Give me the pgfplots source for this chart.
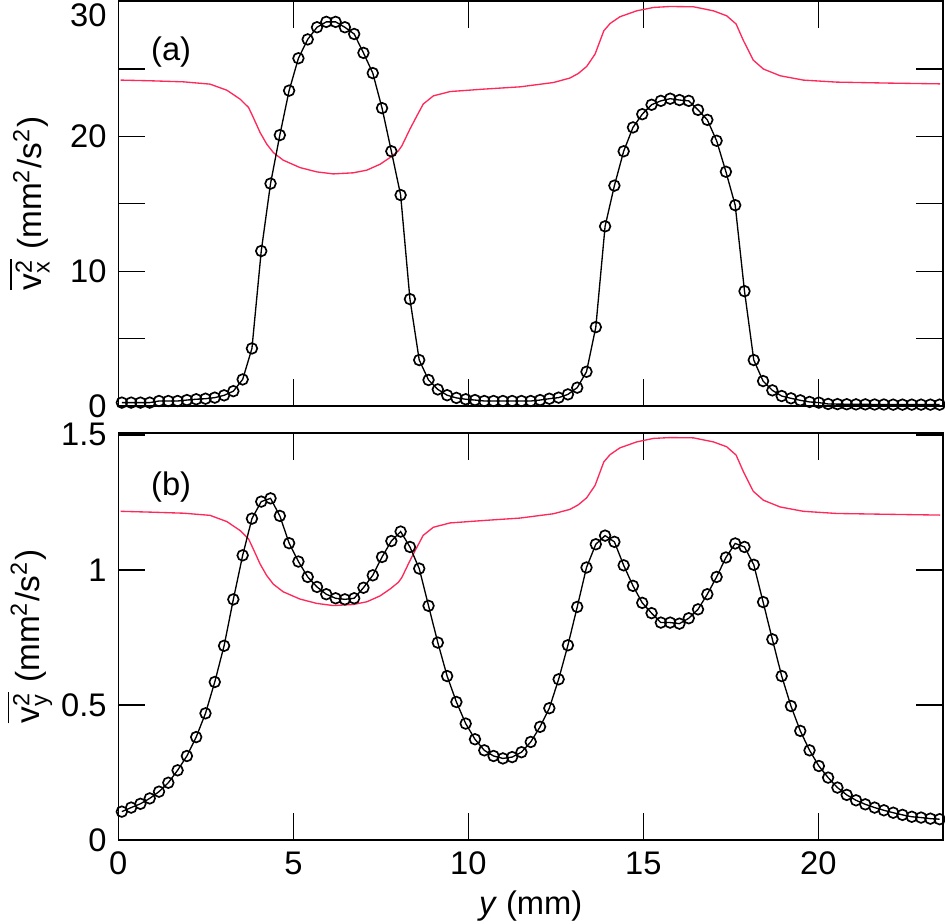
\documentclass[border=0pt]{standalone}
\usepackage{fontspec}
\setmainfont{Liberation Sans}
\usepackage{pgfplots}
\pgfplotsset{compat=1.18}
\definecolor{prof}{RGB}{255,40,90}

\pgfplotstableread{
x v
0.100 0.25
0.366 0.25
0.631 0.25
0.897 0.25
1.162 0.37
1.428 0.37
1.693 0.37
1.959 0.44
2.224 0.50
2.490 0.54
2.755 0.62
3.021 0.79
3.286 1.10
3.552 1.97
3.817 4.27
4.083 11.5
4.348 16.5
4.614 20.1
4.879 23.4
5.145 25.8
5.410 27.2
5.676 28.1
5.941 28.5
6.207 28.5
6.472 28.1
6.738 27.6
7.003 26.2
7.269 24.7
7.534 22.1
7.800 18.9
8.065 15.65
8.331 7.93
8.596 3.41
8.862 1.93
9.127 1.23
9.393 0.80
9.658 0.60
9.924 0.50
10.189 0.44
10.455 0.37
10.720 0.37
10.986 0.37
11.251 0.37
11.517 0.37
11.782 0.37
12.048 0.44
12.313 0.54
12.579 0.62
12.844 0.86
13.110 1.36
13.375 2.54
13.641 5.85
13.906 13.33
14.172 16.35
14.437 18.9
14.703 20.67
14.968 21.65
15.234 22.35
15.499 22.64
15.765 22.8
16.030 22.7
16.296 22.64
16.561 21.97
16.827 21.23
17.092 19.68
17.358 17.38
17.623 14.9
17.889 8.52
18.154 3.41
18.420 1.85
18.685 1.16
18.951 0.74
19.216 0.57
19.482 0.42
19.747 0.30
20.013 0.25
20.278 0.15
20.544 0.14
20.809 0.13
21.075 0.12
21.340 0.12
21.606 0.11
21.871 0.11
22.137 0.10
22.402 0.10
22.668 0.10
22.933 0.10
23.199 0.10
23.464 0.10
}\vxtable

\pgfplotstableread{
x v
0.100 0.105
0.366 0.120
0.631 0.134
0.897 0.154
1.162 0.179
1.428 0.212
1.693 0.258
1.959 0.311
2.224 0.381
2.490 0.469
2.755 0.585
3.021 0.719
3.286 0.891
3.552 1.054
3.817 1.190
4.083 1.253
4.348 1.265
4.614 1.200
4.879 1.099
5.145 1.031
5.410 0.974
5.676 0.937
5.941 0.910
6.207 0.895
6.472 0.891
6.738 0.895
7.003 0.934
7.269 0.980
7.534 1.048
7.800 1.107
8.065 1.142
8.331 1.085
8.596 1.005
8.862 0.867
9.127 0.731
9.393 0.607
9.658 0.511
9.924 0.431
10.189 0.373
10.455 0.332
10.720 0.311
10.986 0.302
11.251 0.307
11.517 0.325
11.782 0.363
12.048 0.419
12.313 0.488
12.579 0.595
12.844 0.721
13.110 0.863
13.375 1.009
13.641 1.095
13.906 1.127
14.172 1.104
14.437 1.017
14.703 0.941
14.968 0.878
15.234 0.840
15.499 0.805
15.765 0.805
16.030 0.801
16.296 0.821
16.561 0.854
16.827 0.910
17.092 0.974
17.358 1.046
17.623 1.098
17.889 1.085
18.154 1.019
18.420 0.881
18.685 0.743
18.951 0.607
19.216 0.496
19.482 0.404
19.747 0.332
20.013 0.274
20.278 0.231
20.544 0.194
20.809 0.167
21.075 0.147
21.340 0.132
21.606 0.120
21.871 0.110
22.137 0.101
22.402 0.093
22.668 0.086
22.933 0.083
23.199 0.079
23.464 0.077
}\vytable

\pgfplotstableread{
x v b
0.068 24.18 1.217
0.906 24.13 1.214
1.866 24.05 1.210
2.62 23.88 1.202
3.10 23.43 1.179
3.477 22.77 1.146
3.72 22.15 1.115
3.857 21.40 1.077
4.05 20.29 1.022
4.24 19.43 0.979
4.43 18.80 0.947
4.71 18.24 0.919
5.19 17.69 0.892
5.67 17.37 0.876
6.14 17.22 0.868
6.71 17.30 0.872
7.10 17.50 0.882
7.48 17.94 0.904
7.76 18.43 0.929
8.00 18.93 0.954
8.10 19.30 0.972
8.33 20.54 1.034
8.53 21.53 1.084
8.71 22.40 1.128
9.00 23.01 1.158
9.48 23.33 1.174
10.44 23.51 1.183
11.48 23.68 1.192
12.43 24.00 1.208
12.90 24.33 1.224
13.14 24.67 1.241
13.38 25.19 1.267
13.62 26.11 1.313
13.87 27.84 1.400
14.05 28.38 1.427
14.33 28.88 1.452
14.81 29.32 1.474
15.29 29.57 1.487
15.76 29.64 1.490
16.43 29.62 1.489
17.00 29.32 1.474
17.38 28.95 1.456
17.65 28.34 1.425
17.86 27.10 1.363
18.14 25.66 1.291
18.43 25.00 1.258
18.91 24.50 1.233
19.57 24.18 1.217
20.52 24.03 1.209
21.95 23.96 1.206
23.48 23.90 1.203
}\prof

\pgfplotsset{
  myax/.style={
    scale only axis, width=247.4pt,
    xmin=0, xmax=23.56,
    xtick={0,5,10,15,20},
    tick align=inside,
    major tick length=8pt, minor tick length=8pt,
    tick style={black, line width=0.4pt},
    axis line style={line width=0.45pt},
    /pgf/number format/assume math mode=true,
    tick label style={font=\fontsize{9.8}{11}\selectfont},
    label style={font=\fontsize{9.8}{11}\selectfont},
    every axis y label/.style={at={(axis description cs:-0.108,0.5)}, rotate=90, anchor=center},
  },
  dataplot/.style={black, line width=0.4pt, mark=o, mark size=1.6pt,
    mark options={line width=0.5pt, fill=none}},
  profplot/.style={prof, line width=0.4pt, no markers, sharp plot},
}

\begin{document}
\begin{tikzpicture}
\begin{axis}[myax, name=top,
  at={(0,0)}, anchor=south west, height=121.5pt,
  ymin=0, ymax=30.05,
  ytick={0,10,20}, minor ytick={5,15,25},
  extra y ticks={30},
  extra y tick style={yticklabel style={yshift=-4pt}},
  xticklabels={},
  ylabel={$\overline{\mbox{v}^{\mbox{\fontsize{7}{8}\selectfont 2}}_{\mbox{\fontsize{7}{8}\selectfont x}}}$ (mm\textsuperscript{2}/s\textsuperscript{2})},
]
\addplot[profplot] table[x=x,y=v] {\prof};
\addplot[dataplot] table[x=x,y=v] {\vxtable};
\node[font=\fontsize{9.8}{11}\selectfont] at (rel axis cs:0.064,0.875) {(a)};
\end{axis}
\begin{axis}[myax, name=bot,
  at={(0,-8.1pt)}, anchor=north west, height=122.1pt,
  ymin=0, ymax=1.507,
  ytick={0,0.5,1,1.5},
  xlabel={\textit{y} (mm)},
  xlabel style={at={(axis description cs:0.5,0)}, anchor=center, yshift=-19.8pt},
  ylabel={$\overline{\mbox{v}^{\mbox{\fontsize{7}{8}\selectfont 2}}_{\mbox{\fontsize{7}{8}\selectfont y}}}$ (mm\textsuperscript{2}/s\textsuperscript{2})},
]
\addplot[profplot] table[x=x,y=b] {\prof};
\addplot[dataplot] table[x=x,y=v] {\vytable};
\node[font=\fontsize{9.8}{11}\selectfont] at (rel axis cs:0.064,0.866) {(b)};
\end{axis}
\pgfresetboundingbox
\path[use as bounding box] (-35.5pt,121.8pt) rectangle (248pt,-155.4pt);
\end{tikzpicture}
\end{document}
